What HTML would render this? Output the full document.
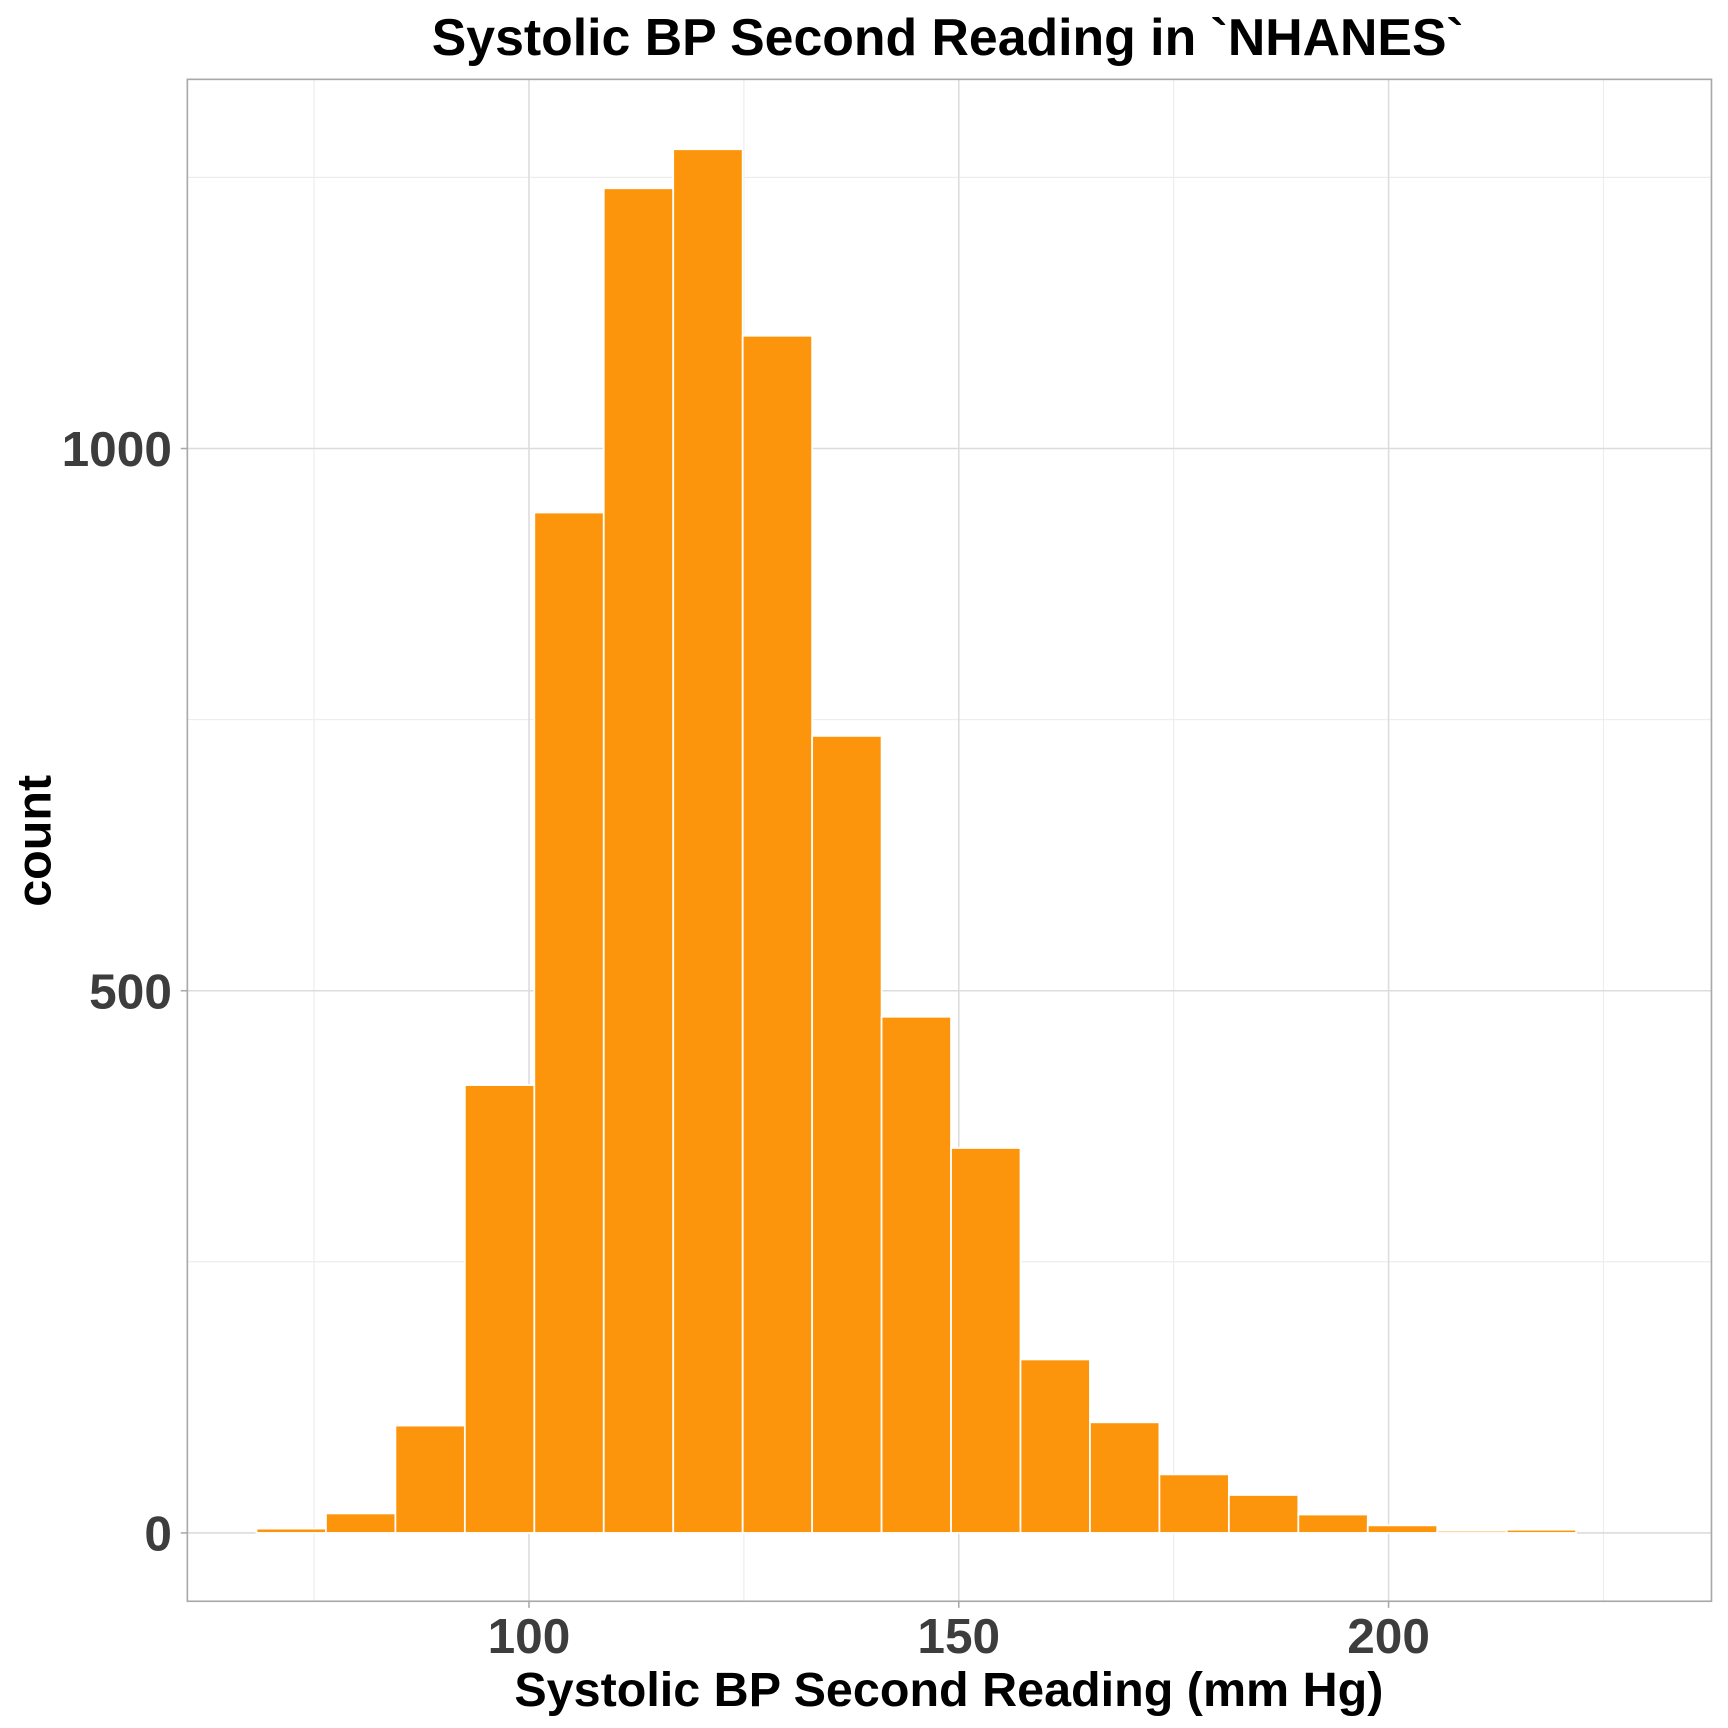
<!DOCTYPE html>
<html><head><meta charset="utf-8"><style>html,body{margin:0;padding:0;background:#fff}svg{display:block}</style></head>
<body>
<svg id="chart" width="1728" height="1728" viewBox="0 0 1568 1568" xmlns="http://www.w3.org/2000/svg" font-family="Liberation Sans, Arial, sans-serif">
<rect width="1568" height="1568" fill="#fff"/>
<g id="grid"></g>
<g id="bars"></g>
<rect x="170" y="72" width="1383" height="1381" fill="none" stroke="#a9a9a9" stroke-width="1.5"/>
<g id="axes"></g>
<text x="860" y="50" text-anchor="middle" font-size="47" font-weight="bold" fill="#000">Systolic BP Second Reading in `NHANES`</text>
<text x="861" y="1548" text-anchor="middle" font-size="44" font-weight="bold" fill="#000">Systolic BP Second Reading (mm Hg)</text>
<text transform="translate(46,763) rotate(-90)" text-anchor="middle" font-size="44" font-weight="bold" fill="#000">count</text>
</svg>
<script>
const binStart = 68.3;
const binWidth = 8.08;
const counts = [4, 18, 99, 413, 941, 1240, 1276, 1104, 735, 476, 355, 160, 102, 54, 35, 17, 7, 2, 3, 0];
const xTicks = [100, 150, 200];
const xMinor = [75, 125, 175, 225];
const yTicks = [0, 500, 1000];
const yMinor = [250, 750, 1250];

const NS = 'http://www.w3.org/2000/svg';
const L = 170, R = 1553, T = 72, B = 1453;
function xs(v){ return 480 + (v - 100) * 7.8; }
function ys(v){ return 1391 - v * 0.984; }
function mk(tag, attrs, parent){ const e = document.createElementNS(NS, tag); for (const k in attrs) e.setAttribute(k, attrs[k]); parent.appendChild(e); return e; }
const grid = document.getElementById('grid'), bars = document.getElementById('bars'), axes = document.getElementById('axes');

xMinor.forEach(v => { const l = mk('line', {x1: xs(v), x2: xs(v), y1: T, y2: B, stroke: '#ececec', 'stroke-width': 1}, grid);
  
   });
yMinor.forEach(v => { const l = mk('line', {x1: L, x2: R, y1: ys(v), y2: ys(v), stroke: '#ececec', 'stroke-width': 1}, grid);
  
   });
xTicks.forEach(v => { const l = mk('line', {x1: xs(v), x2: xs(v), y1: T, y2: B, stroke: '#dcdcdc', 'stroke-width': 1.4}, grid);
  
  
  const t = mk('line', {x1: xs(v), x2: xs(v), y1: B, y2: B + 6, stroke: '#a9a9a9', 'stroke-width': 1.4}, axes);
  
  
  const tx = mk('text', {x: xs(v), y: 1500, 'text-anchor': 'middle', 'font-size': 45, 'font-weight': 'bold', fill: '#3d3d3d'}, axes);
  tx.textContent = v;
  
   });
yTicks.forEach(v => { const l = mk('line', {x1: L, x2: R, y1: ys(v), y2: ys(v), stroke: '#dcdcdc', 'stroke-width': 1.4}, grid);
  
  
  const t = mk('line', {x1: L - 6, x2: L, y1: ys(v), y2: ys(v), stroke: '#a9a9a9', 'stroke-width': 1.4}, axes);
  
  
  const tx = mk('text', {x: L - 14, y: ys(v) + 16, 'text-anchor': 'end', 'font-size': 45, 'font-weight': 'bold', fill: '#3d3d3d'}, axes);
  tx.textContent = v;
  
   });

counts.forEach((c, i) => {
  const x0 = xs(binStart + i * binWidth), x1 = xs(binStart + (i + 1) * binWidth);
  const r = mk('rect', {x: x0, y: ys(c), width: x1 - x0, height: ys(0) - ys(c), fill: '#FD950C', stroke: '#fff', 'stroke-width': 1.6}, bars);
  
  
});
</script>
</body></html>
